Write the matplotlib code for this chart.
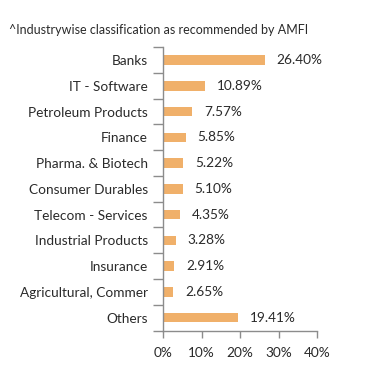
import matplotlib.pyplot as plt
import numpy as np

plt.rcParams['font.family'] = ['Lato', 'DejaVu Sans']

categories = ["Banks", "IT - Software", "Petroleum Products", "Finance",
              "Pharma. & Biotech", "Consumer Durables", "Telecom - Services",
              "Industrial Products", "Insurance", "Agricultural, Commer", "Others"]
values = [26.40, 10.89, 7.57, 5.85, 5.22, 5.10, 4.35, 3.28, 2.91, 2.65, 19.41]
xticks = [0, 10, 20, 30, 40]

bar_color = "#F0B06A"
axis_color = "#8c8c8c"
text_color = "#2a2a2a"
fs = 9.8

fig = plt.figure(figsize=(3.91, 3.83), dpi=100)
ax = fig.add_axes([0.417, 0.137, 0.394, 0.740])

y = np.arange(len(categories))
ax.barh(y, values, height=0.37, color=bar_color)
for yi, v in zip(y, values):
    ax.text(v + 3.1, yi, f"{v:.2f}%", va="center", ha="left",
            fontsize=fs, color=text_color)

ax.set_ylim(len(categories) - 0.5, -0.5)
ax.set_xlim(0, 40)
ax.set_yticks(y)
ax.set_yticklabels(categories, fontsize=fs, color=text_color)
ax.set_yticks(np.arange(-0.5, len(categories)), minor=True)
ax.tick_params(axis="y", which="major", length=0, pad=11)
ax.tick_params(axis="y", which="minor", length=7, color=axis_color, width=1)

ax.set_xticks(xticks)
ax.set_xticklabels([f"{t}%" for t in xticks], fontsize=fs, color=text_color)
ax.tick_params(axis="x", length=5, color=axis_color, width=1, pad=7)

for s in ["top", "right"]:
    ax.spines[s].set_visible(False)
for s in ["left", "bottom"]:
    ax.spines[s].set_color(axis_color)
    ax.spines[s].set_linewidth(1)

fig.text(0.023, 0.922, "^Industrywise classification as recommended by AMFI",
         fontsize=9.0, color=text_color, va="center")

fig.savefig("out.png", dpi=100)
